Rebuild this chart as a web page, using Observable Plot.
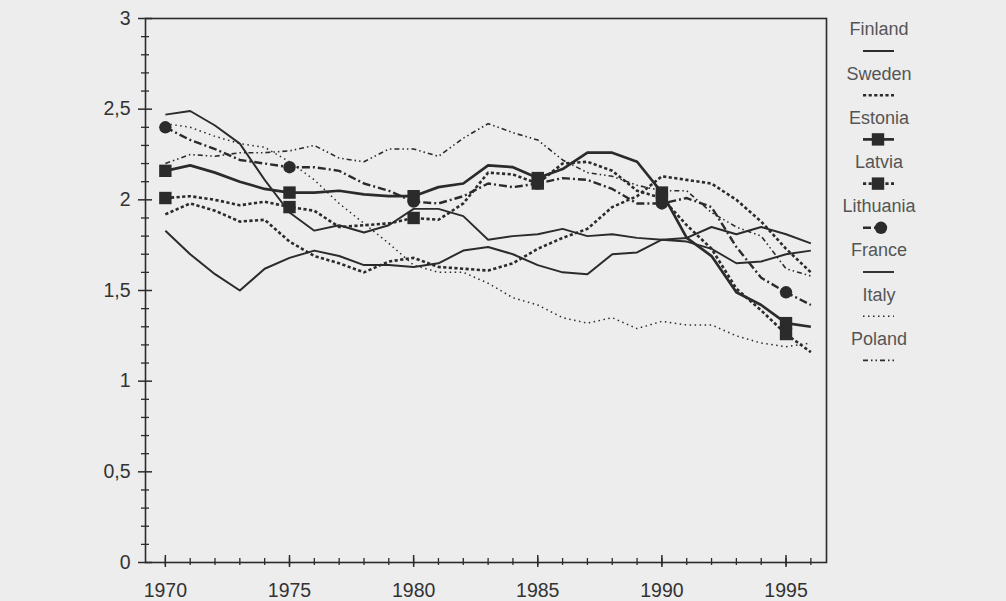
<!DOCTYPE html>
<html><head><meta charset="utf-8">
<script src="https://cdn.jsdelivr.net/npm/d3@7"></script>
<script src="https://cdn.jsdelivr.net/npm/@observablehq/plot@0.6"></script>
<style>
html,body{margin:0;padding:0;background:#ededed;}
#wrap{position:relative;width:1006px;height:601px;overflow:hidden;background:#ededed;}
</style></head><body><div id="wrap"></div>
<script>
const years = [1970,1971,1972,1973,1974,1975,1976,1977,1978,1979,1980,1981,1982,1983,1984,1985,1986,1987,1988,1989,1990,1991,1992,1993,1994,1995,1996];
const finland   = [1.83,1.70,1.59,1.50,1.62,1.68,1.72,1.69,1.64,1.64,1.63,1.65,1.72,1.74,1.70,1.64,1.60,1.59,1.70,1.71,1.78,1.79,1.85,1.81,1.85,1.81,1.76];
const sweden    = [1.92,1.98,1.94,1.88,1.89,1.77,1.69,1.65,1.60,1.66,1.68,1.63,1.62,1.61,1.65,1.73,1.79,1.84,1.96,2.02,2.13,2.11,2.09,2.00,1.88,1.73,1.60];
const estonia   = [2.16,2.19,2.15,2.10,2.06,2.04,2.04,2.05,2.03,2.02,2.02,2.07,2.09,2.19,2.18,2.12,2.17,2.26,2.26,2.21,2.04,1.79,1.69,1.49,1.42,1.32,1.30];
const latvia    = [2.01,2.02,2.00,1.97,1.99,1.96,1.94,1.85,1.86,1.87,1.90,1.89,1.98,2.15,2.14,2.09,2.20,2.21,2.16,2.05,2.01,1.86,1.73,1.51,1.39,1.26,1.16];
const lithuania = [2.40,2.33,2.28,2.22,2.20,2.18,2.18,2.16,2.09,2.05,1.99,1.98,2.02,2.09,2.07,2.09,2.12,2.11,2.06,1.98,1.98,2.01,1.96,1.74,1.57,1.49,1.42];
const france    = [2.47,2.49,2.41,2.31,2.11,1.93,1.83,1.86,1.82,1.86,1.95,1.95,1.91,1.78,1.80,1.81,1.84,1.80,1.81,1.79,1.78,1.77,1.73,1.65,1.66,1.70,1.72];
const italy     = [2.42,2.40,2.35,2.31,2.29,2.21,2.11,1.98,1.87,1.76,1.64,1.60,1.60,1.54,1.46,1.42,1.35,1.32,1.35,1.29,1.33,1.31,1.31,1.25,1.21,1.19,1.21];
const poland    = [2.20,2.25,2.24,2.26,2.26,2.27,2.30,2.23,2.21,2.28,2.28,2.24,2.34,2.42,2.37,2.33,2.22,2.15,2.13,2.08,2.05,2.05,1.93,1.85,1.80,1.62,1.58];

const countries = ["Finland","Sweden","Estonia","Latvia","Lithuania","France","Italy","Poland"];
const seriesValues = [finland, sweden, estonia, latvia, lithuania, france, italy, poland];
const markerYears = [1970,1975,1980,1985,1990,1995];
const xMajorTicks = [1970,1975,1980,1985,1990,1995];
const xMinorTicks = years;
const yMajorTicks = [0,0.5,1,1.5,2,2.5,3];
const yMinorTicks = [0.1,0.2,0.3,0.4,0.6,0.7,0.8,0.9,1.1,1.2,1.3,1.4,1.6,1.7,1.8,1.9,2.1,2.2,2.3,2.4,2.6,2.7,2.8,2.9];

const ink = "#2b2b2b";
const styles = {
  Finland:   {width: 2.0, dash: null, marker: null},
  Sweden:    {width: 2.6, dash: "3.2,2.4", marker: null},
  Estonia:   {width: 2.7, dash: null, marker: "square"},
  Latvia:    {width: 2.6, dash: "3.2,2.4", marker: "square"},
  Lithuania: {width: 2.4, dash: "8,3,2,3", marker: "circle"},
  France:    {width: 1.9, dash: null, marker: null},
  Italy:     {width: 1.5, dash: "1.5,3.5", marker: null},
  Poland:    {width: 1.6, dash: "5,3,1.5,3,1.5,3", marker: null}
};

const rows = countries.flatMap((c, i) => years.map((yr, j) => ({country: c, year: yr, value: seriesValues[i][j]})));
const markerRows = rows.filter(d => styles[d.country].marker && markerYears.includes(d.year));

const xDomain = [1969.2, 1996.63];

const lineMarks = countries.map(c => {
  const s = styles[c];
  const o = {x: "year", y: "value", stroke: ink, strokeWidth: s.width, strokeLinecap: "butt"};
  if (s.dash) o.strokeDasharray = s.dash;
  return Plot.line(rows.filter(d => d.country === c), o);
});

const chart = Plot.plot({
  width: 1006, height: 601,
  marginLeft: 145, marginRight: 180, marginTop: 18, marginBottom: 39,
  x: {domain: xDomain},
  y: {domain: [0, 3]},
  style: {background: "transparent", color: "#333", fontFamily: "'Liberation Sans', Arial, sans-serif", fontSize: "19.5px"},
  marks: [
    Plot.frame({stroke: ink, strokeWidth: 1.6}),
    Plot.ruleY(yMinorTicks, {y: d => d, x1: xDomain[0], x2: xDomain[0], insetLeft: -4, insetRight: -4, stroke: ink, strokeWidth: 1.3}),
    Plot.ruleY(yMajorTicks, {y: d => d, x1: xDomain[0], x2: xDomain[0], insetLeft: -7, insetRight: -7, stroke: ink, strokeWidth: 1.5}),
    Plot.ruleX(xMinorTicks, {x: d => d, y1: 0, y2: 0, insetTop: -4, insetBottom: -3, stroke: ink, strokeWidth: 1.3}),
    Plot.ruleX(xMajorTicks, {x: d => d, y1: 0, y2: 0, insetTop: -7, insetBottom: -5, stroke: ink, strokeWidth: 1.5}),
    ...lineMarks,
    Plot.dot(markerRows.filter(d => styles[d.country].marker === "square"), {x: "year", y: "value", symbol: "square", r: 7, fill: ink}),
    Plot.dot(markerRows.filter(d => styles[d.country].marker === "circle"), {x: "year", y: "value", symbol: "circle", r: 6.2, fill: ink}),
    Plot.axisX({ticks: xMajorTicks, tickSize: 0, tickPadding: 21, tickFormat: d => String(d), label: null}),
    Plot.axisY({ticks: yMajorTicks, tickSize: 0, tickPadding: 15, tickFormat: d => String(d).replace(".", ","), label: null})
  ]
});
const wrap = document.getElementById("wrap");
wrap.appendChild(chart);

// legend
const lg = d3.select(wrap).append("svg")
  .attr("width", 176).attr("height", 390)
  .style("position", "absolute").style("left", "830px").style("top", "0px");
countries.forEach((c, i) => {
  const s = styles[c];
  const ty = 29 + i * 44.2;
  lg.append("text").attr("x", 49).attr("y", ty).attr("dy", "0.35em")
    .attr("text-anchor", "middle")
    .attr("font-family", "'Liberation Sans', Arial, sans-serif")
    .attr("font-size", 18).attr("fill", "#555").text(c);
  const sy = ty + 22;
  const ln = lg.append("line").attr("x1", 33).attr("x2", 64).attr("y1", sy).attr("y2", sy)
    .attr("stroke", ink).attr("stroke-width", s.width);
  if (s.dash) ln.attr("stroke-dasharray", s.dash);
  if (s.marker === "square") {
    lg.append("rect").attr("x", 48 - 6.2).attr("y", sy - 6.2).attr("width", 12.4).attr("height", 12.4).attr("fill", ink);
  } else if (s.marker === "circle") {
    ln.attr("x2", 58);
    lg.append("circle").attr("cx", 51).attr("cy", sy).attr("r", 6.2).attr("fill", ink);
  }
});
</script></body></html>
